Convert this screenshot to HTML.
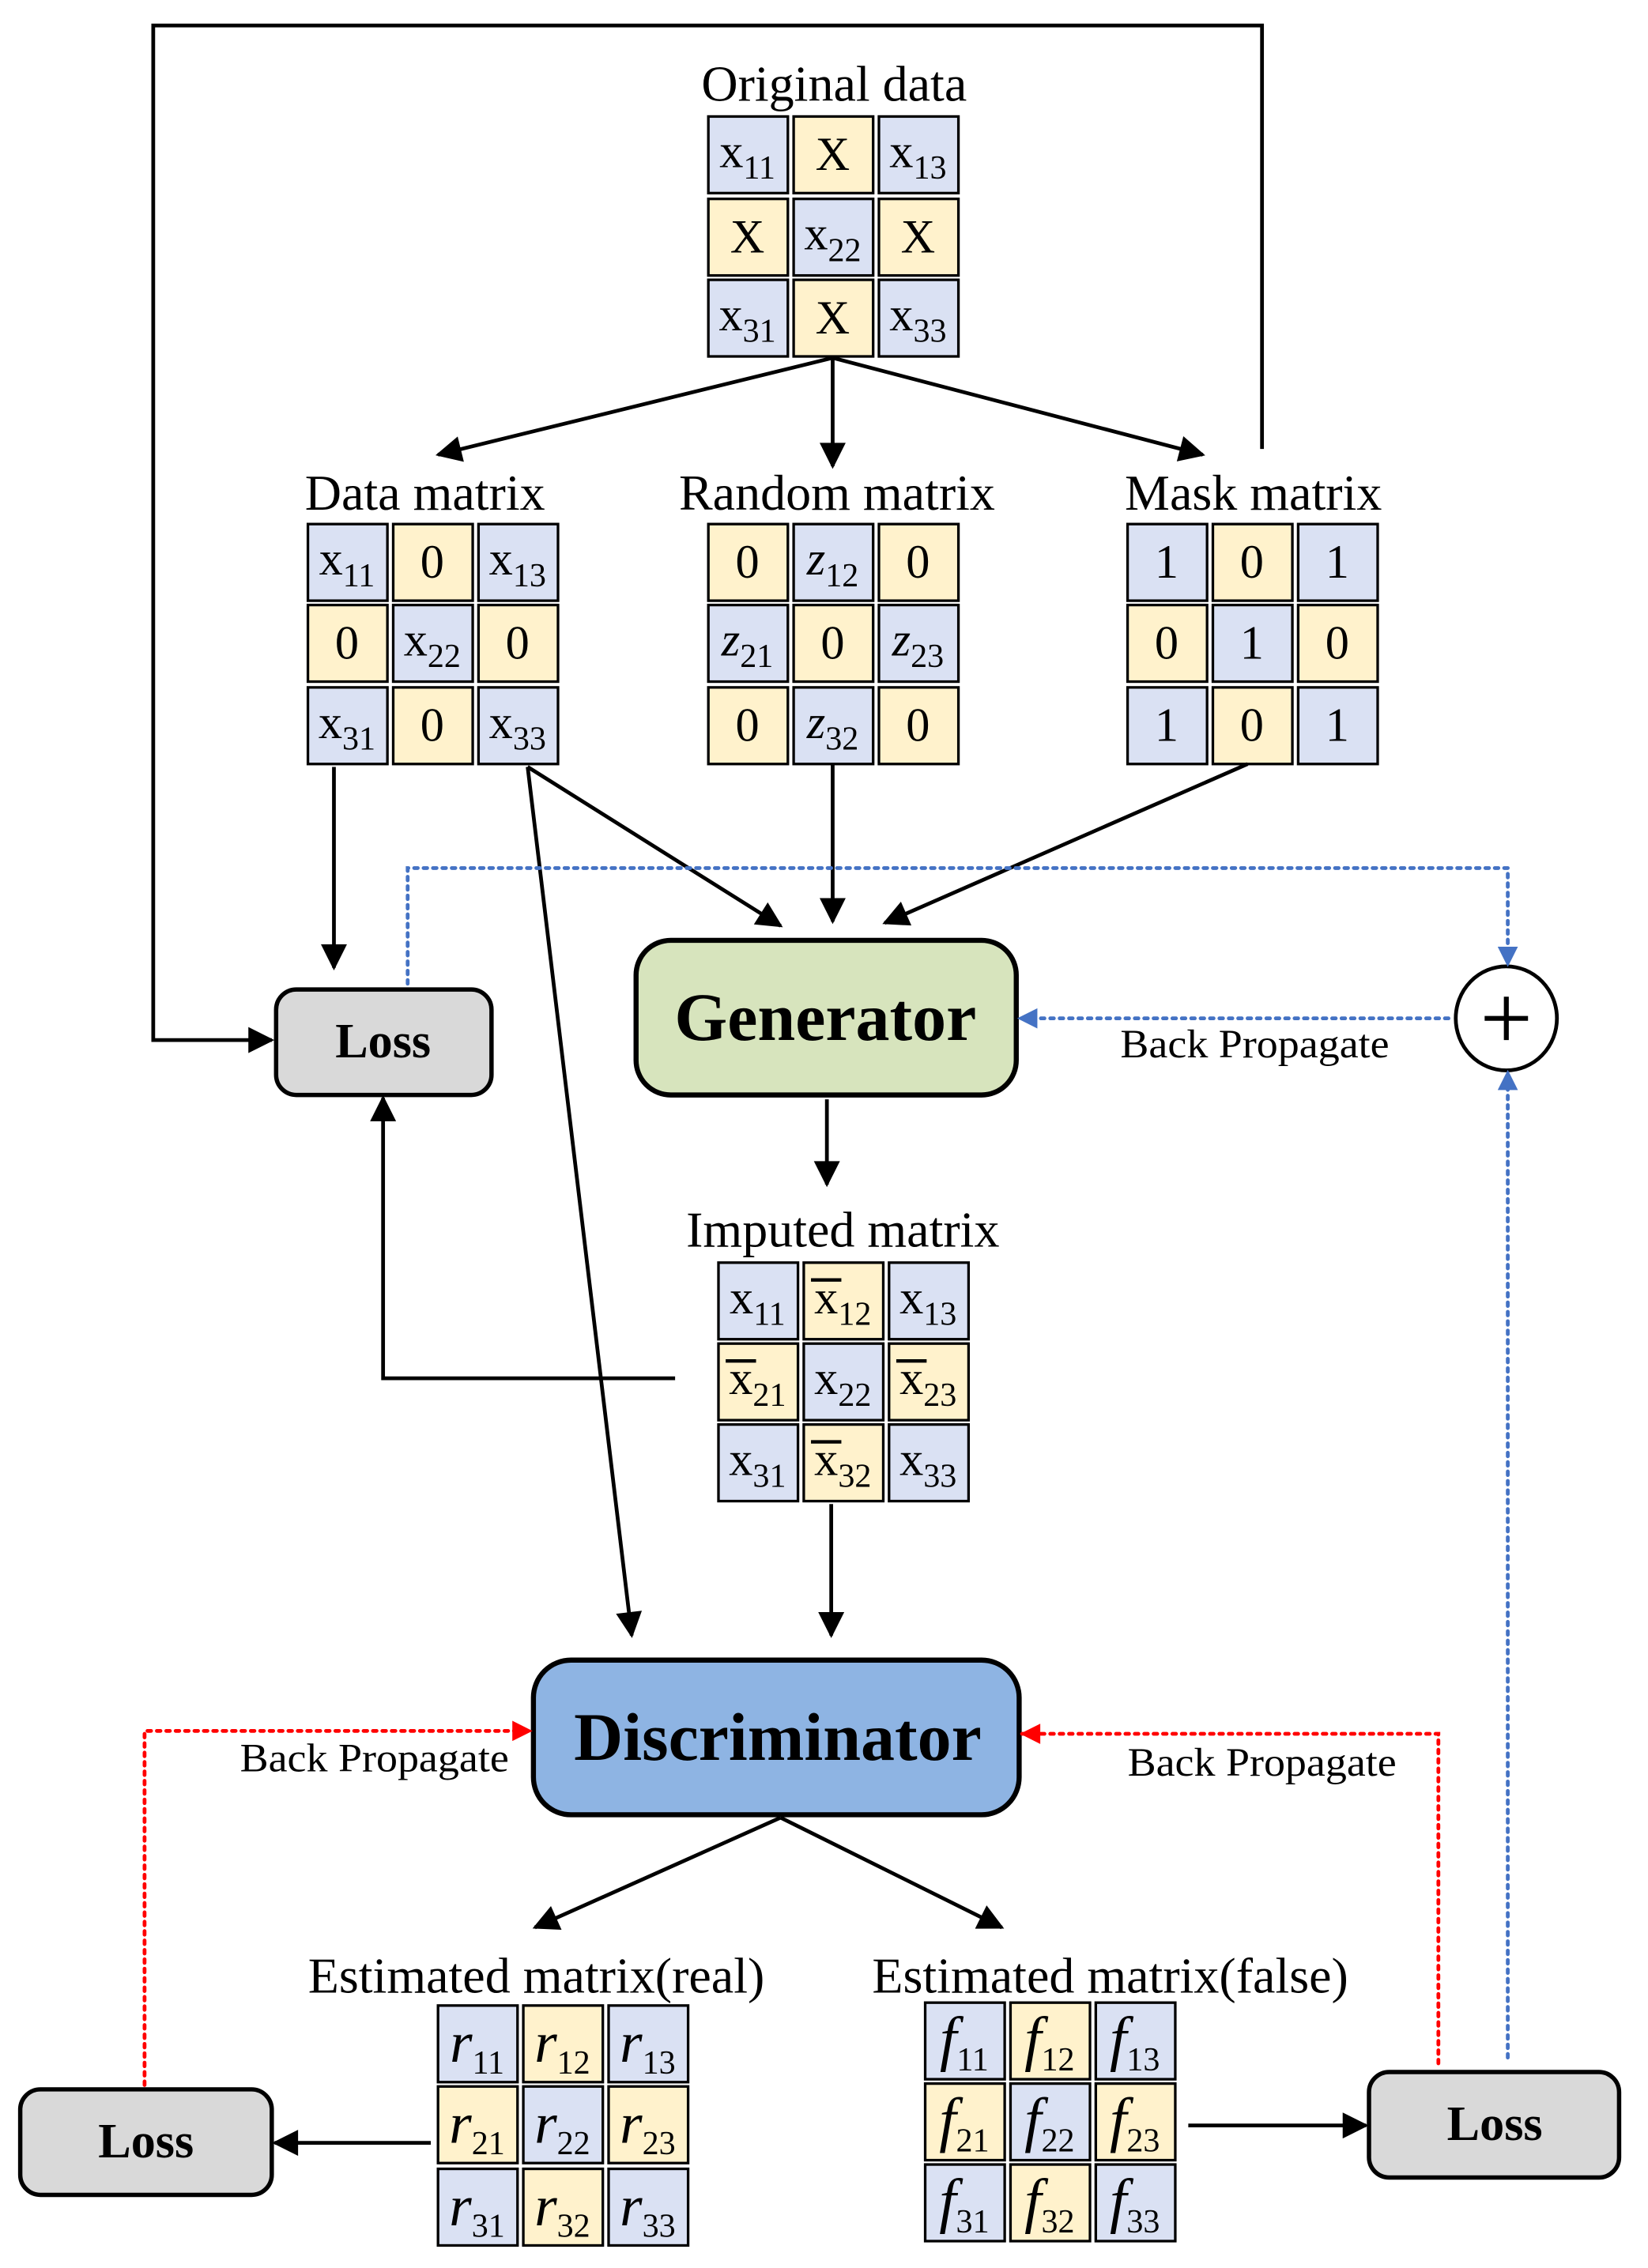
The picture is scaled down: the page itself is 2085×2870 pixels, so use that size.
<!DOCTYPE html>
<html><head><meta charset="utf-8"><style>
html,body{margin:0;padding:0;background:#fff;}
svg{display:block;}
text{font-family:"Liberation Serif",serif;fill:#000;}
.b{fill:#dae1f3;stroke:#000;stroke-width:1.8;}
.y{fill:#fff2cc;stroke:#000;stroke-width:1.8;}
.c{font-size:33px;text-anchor:middle;}
.s{font-size:23px;}
.i{font-style:italic;}
.lab{font-size:35px;text-anchor:middle;}
.ln{stroke:#000;stroke-width:2.6;fill:none;}
.bl{stroke:#4472c4;stroke-width:2.6;fill:none;stroke-dasharray:2.5 4;stroke-linecap:round;}
.rd{stroke:#ff0000;stroke-width:2.6;fill:none;stroke-dasharray:2.5 4;stroke-linecap:round;}
.bp{font-size:28px;}
</style></head><body>
<svg width="2085" height="2870" viewBox="0 0 1140 1568" xmlns="http://www.w3.org/2000/svg">
<defs>
<marker id="a" viewBox="0 0 10 10" refX="9" refY="5" markerWidth="20" markerHeight="18" orient="auto" markerUnits="userSpaceOnUse"><path d="M0,0 L10,5 L0,10 z" fill="#000"/></marker>
<marker id="ab" viewBox="0 0 10 10" refX="9" refY="5" markerWidth="20" markerHeight="14" orient="auto" markerUnits="userSpaceOnUse"><path d="M0,0 L10,5 L0,10 z" fill="#4472c4"/></marker>
<marker id="ar" viewBox="0 0 10 10" refX="9" refY="5" markerWidth="18" markerHeight="14" orient="auto" markerUnits="userSpaceOnUse"><path d="M0,0 L10,5 L0,10 z" fill="#ff0000"/></marker>
</defs>

<!-- labels -->
<text class="lab" x="577" y="69">Original data</text>
<text class="lab" x="294" y="352">Data matrix</text>
<text class="lab" x="579" y="352">Random matrix</text>
<text class="lab" x="867" y="352">Mask matrix</text>
<text class="lab" x="583" y="862">Imputed matrix</text>
<text class="lab" x="371" y="1378">Estimated matrix(real)</text>
<text class="lab" x="768" y="1378">Estimated matrix(false)</text>

<!-- Original data -->
<rect class="b" x="490" y="80" width="55" height="53"/><rect class="y" x="549" y="80" width="55" height="53"/><rect class="b" x="608" y="80" width="55" height="53"/>
<rect class="y" x="490" y="137" width="55" height="53"/><rect class="b" x="549" y="137" width="55" height="53"/><rect class="y" x="608" y="137" width="55" height="53"/>
<rect class="b" x="490" y="193" width="55" height="53"/><rect class="y" x="549" y="193" width="55" height="53"/><rect class="b" x="608" y="193" width="55" height="53"/>
<text class="c" x="517" y="115">x<tspan class="s" dy="8">11</tspan></text>
<text class="c" x="576" y="117">X</text>
<text class="c" x="635" y="115">x<tspan class="s" dy="8">13</tspan></text>
<text class="c" x="517" y="174">X</text>
<text class="c" x="576" y="172">x<tspan class="s" dy="8">22</tspan></text>
<text class="c" x="635" y="174">X</text>
<text class="c" x="517" y="228">x<tspan class="s" dy="8">31</tspan></text>
<text class="c" x="576" y="230">X</text>
<text class="c" x="635" y="228">x<tspan class="s" dy="8">33</tspan></text>

<!-- Data matrix -->
<rect class="b" x="213" y="362" width="55" height="53"/><rect class="y" x="272" y="362" width="55" height="53"/><rect class="b" x="331" y="362" width="55" height="53"/>
<rect class="y" x="213" y="418" width="55" height="53"/><rect class="b" x="272" y="418" width="55" height="53"/><rect class="y" x="331" y="418" width="55" height="53"/>
<rect class="b" x="213" y="475" width="55" height="53"/><rect class="y" x="272" y="475" width="55" height="53"/><rect class="b" x="331" y="475" width="55" height="53"/>
<text class="c" x="240" y="397">x<tspan class="s" dy="8">11</tspan></text>
<text class="c" x="299" y="399">0</text>
<text class="c" x="358" y="397">x<tspan class="s" dy="8">13</tspan></text>
<text class="c" x="240" y="455">0</text>
<text class="c" x="299" y="453">x<tspan class="s" dy="8">22</tspan></text>
<text class="c" x="358" y="455">0</text>
<text class="c" x="240" y="510">x<tspan class="s" dy="8">31</tspan></text>
<text class="c" x="299" y="512">0</text>
<text class="c" x="358" y="510">x<tspan class="s" dy="8">33</tspan></text>

<!-- Random matrix -->
<rect class="y" x="490" y="362" width="55" height="53"/><rect class="b" x="549" y="362" width="55" height="53"/><rect class="y" x="608" y="362" width="55" height="53"/>
<rect class="b" x="490" y="418" width="55" height="53"/><rect class="y" x="549" y="418" width="55" height="53"/><rect class="b" x="608" y="418" width="55" height="53"/>
<rect class="y" x="490" y="475" width="55" height="53"/><rect class="b" x="549" y="475" width="55" height="53"/><rect class="y" x="608" y="475" width="55" height="53"/>
<text class="c" x="517" y="399">0</text>
<text class="c" x="576" y="397"><tspan class="i">z</tspan><tspan class="s" dy="8">12</tspan></text>
<text class="c" x="635" y="399">0</text>
<text class="c" x="517" y="453"><tspan class="i">z</tspan><tspan class="s" dy="8">21</tspan></text>
<text class="c" x="576" y="455">0</text>
<text class="c" x="635" y="453"><tspan class="i">z</tspan><tspan class="s" dy="8">23</tspan></text>
<text class="c" x="517" y="512">0</text>
<text class="c" x="576" y="510"><tspan class="i">z</tspan><tspan class="s" dy="8">32</tspan></text>
<text class="c" x="635" y="512">0</text>

<!-- Mask matrix -->
<rect class="b" x="780" y="362" width="55" height="53"/><rect class="y" x="839" y="362" width="55" height="53"/><rect class="b" x="898" y="362" width="55" height="53"/>
<rect class="y" x="780" y="418" width="55" height="53"/><rect class="b" x="839" y="418" width="55" height="53"/><rect class="y" x="898" y="418" width="55" height="53"/>
<rect class="b" x="780" y="475" width="55" height="53"/><rect class="y" x="839" y="475" width="55" height="53"/><rect class="b" x="898" y="475" width="55" height="53"/>
<text class="c" x="807" y="399">1</text><text class="c" x="866" y="399">0</text><text class="c" x="925" y="399">1</text>
<text class="c" x="807" y="455">0</text><text class="c" x="866" y="455">1</text><text class="c" x="925" y="455">0</text>
<text class="c" x="807" y="512">1</text><text class="c" x="866" y="512">0</text><text class="c" x="925" y="512">1</text>

<!-- Imputed -->
<rect class="b" x="497" y="873" width="55" height="53"/><rect class="y" x="556" y="873" width="55" height="53"/><rect class="b" x="615" y="873" width="55" height="53"/>
<rect class="y" x="497" y="929" width="55" height="53"/><rect class="b" x="556" y="929" width="55" height="53"/><rect class="y" x="615" y="929" width="55" height="53"/>
<rect class="b" x="497" y="985" width="55" height="53"/><rect class="y" x="556" y="985" width="55" height="53"/><rect class="b" x="615" y="985" width="55" height="53"/>
<text class="c" x="524" y="908">x<tspan class="s" dy="8">11</tspan></text>
<text class="c" x="583" y="908">x<tspan class="s" dy="8">12</tspan></text>
<text class="c" x="642" y="908">x<tspan class="s" dy="8">13</tspan></text>
<text class="c" x="524" y="964">x<tspan class="s" dy="8">21</tspan></text>
<text class="c" x="583" y="964">x<tspan class="s" dy="8">22</tspan></text>
<text class="c" x="642" y="964">x<tspan class="s" dy="8">23</tspan></text>
<text class="c" x="524" y="1020">x<tspan class="s" dy="8">31</tspan></text>
<text class="c" x="583" y="1020">x<tspan class="s" dy="8">32</tspan></text>
<text class="c" x="642" y="1020">x<tspan class="s" dy="8">33</tspan></text>
<g stroke="#000" stroke-width="2.4">
<line x1="561" y1="885" x2="582" y2="885"/>
<line x1="502" y1="941" x2="523" y2="941"/>
<line x1="620" y1="941" x2="641" y2="941"/>
<line x1="561" y1="997" x2="582" y2="997"/>
</g>

<!-- Real -->
<rect class="b" x="303" y="1387" width="55" height="53"/><rect class="y" x="362" y="1387" width="55" height="53"/><rect class="b" x="421" y="1387" width="55" height="53"/>
<rect class="y" x="303" y="1443" width="55" height="53"/><rect class="b" x="362" y="1443" width="55" height="53"/><rect class="y" x="421" y="1443" width="55" height="53"/>
<rect class="b" x="303" y="1500" width="55" height="53"/><rect class="y" x="362" y="1500" width="55" height="53"/><rect class="b" x="421" y="1500" width="55" height="53"/>
<text class="c" x="330" y="1426"><tspan class="i" font-size="40">r</tspan><tspan class="s" dy="8">11</tspan></text>
<text class="c" x="389" y="1426"><tspan class="i" font-size="40">r</tspan><tspan class="s" dy="8">12</tspan></text>
<text class="c" x="448" y="1426"><tspan class="i" font-size="40">r</tspan><tspan class="s" dy="8">13</tspan></text>
<text class="c" x="330" y="1482"><tspan class="i" font-size="40">r</tspan><tspan class="s" dy="8">21</tspan></text>
<text class="c" x="389" y="1482"><tspan class="i" font-size="40">r</tspan><tspan class="s" dy="8">22</tspan></text>
<text class="c" x="448" y="1482"><tspan class="i" font-size="40">r</tspan><tspan class="s" dy="8">23</tspan></text>
<text class="c" x="330" y="1539"><tspan class="i" font-size="40">r</tspan><tspan class="s" dy="8">31</tspan></text>
<text class="c" x="389" y="1539"><tspan class="i" font-size="40">r</tspan><tspan class="s" dy="8">32</tspan></text>
<text class="c" x="448" y="1539"><tspan class="i" font-size="40">r</tspan><tspan class="s" dy="8">33</tspan></text>

<!-- False -->
<rect class="b" x="640" y="1385" width="55" height="53"/><rect class="y" x="699" y="1385" width="55" height="53"/><rect class="b" x="758" y="1385" width="55" height="53"/>
<rect class="y" x="640" y="1441" width="55" height="53"/><rect class="b" x="699" y="1441" width="55" height="53"/><rect class="y" x="758" y="1441" width="55" height="53"/>
<rect class="b" x="640" y="1497" width="55" height="53"/><rect class="y" x="699" y="1497" width="55" height="53"/><rect class="b" x="758" y="1497" width="55" height="53"/>
<text class="c" x="667" y="1424"><tspan class="i" font-size="42">f</tspan><tspan class="s" dy="8">11</tspan></text>
<text class="c" x="726" y="1424"><tspan class="i" font-size="42">f</tspan><tspan class="s" dy="8">12</tspan></text>
<text class="c" x="785" y="1424"><tspan class="i" font-size="42">f</tspan><tspan class="s" dy="8">13</tspan></text>
<text class="c" x="667" y="1480"><tspan class="i" font-size="42">f</tspan><tspan class="s" dy="8">21</tspan></text>
<text class="c" x="726" y="1480"><tspan class="i" font-size="42">f</tspan><tspan class="s" dy="8">22</tspan></text>
<text class="c" x="785" y="1480"><tspan class="i" font-size="42">f</tspan><tspan class="s" dy="8">23</tspan></text>
<text class="c" x="667" y="1536"><tspan class="i" font-size="42">f</tspan><tspan class="s" dy="8">31</tspan></text>
<text class="c" x="726" y="1536"><tspan class="i" font-size="42">f</tspan><tspan class="s" dy="8">32</tspan></text>
<text class="c" x="785" y="1536"><tspan class="i" font-size="42">f</tspan><tspan class="s" dy="8">33</tspan></text>

<!-- Boxes -->
<rect x="191" y="684" width="149" height="73" rx="14" fill="#d9d9d9" stroke="#000" stroke-width="3"/>
<text x="265" y="731" font-size="34" font-weight="bold" text-anchor="middle">Loss</text>
<rect x="440" y="650" width="263" height="107" rx="24" fill="#d7e4bd" stroke="#000" stroke-width="3.5"/>
<text x="571" y="719" font-size="47" font-weight="bold" text-anchor="middle">Generator</text>
<rect x="369" y="1148" width="336" height="107" rx="26" fill="#8eb4e3" stroke="#000" stroke-width="3.5"/>
<text x="538" y="1217" font-size="47" font-weight="bold" text-anchor="middle">Discriminator</text>
<rect x="14" y="1445" width="174" height="73" rx="14" fill="#d9d9d9" stroke="#000" stroke-width="3"/>
<text x="101" y="1492" font-size="34" font-weight="bold" text-anchor="middle">Loss</text>
<rect x="947" y="1433" width="173" height="73" rx="14" fill="#d9d9d9" stroke="#000" stroke-width="3"/>
<text x="1034" y="1480" font-size="34" font-weight="bold" text-anchor="middle">Loss</text>
<ellipse cx="1042" cy="704" rx="35" ry="36" fill="#fff" stroke="#000" stroke-width="2.6"/>
<line x1="1042" y1="689" x2="1042" y2="719" stroke="#000" stroke-width="3.4"/>
<line x1="1027" y1="704" x2="1057" y2="704" stroke="#000" stroke-width="3.4"/>

<!-- Black connectors -->
<polyline class="ln" points="873,310 873,17 106,17 106,719 188,719" marker-end="url(#a)"/>
<line class="ln" x1="576" y1="247" x2="303" y2="314" marker-end="url(#a)"/>
<line class="ln" x1="576" y1="247" x2="576" y2="322" marker-end="url(#a)"/>
<line class="ln" x1="576" y1="247" x2="832" y2="314" marker-end="url(#a)"/>
<line class="ln" x1="231" y1="530" x2="231" y2="669" marker-end="url(#a)"/>
<line class="ln" x1="365" y1="530" x2="540" y2="640" marker-end="url(#a)"/>
<line class="ln" x1="365" y1="530" x2="437" y2="1131" marker-end="url(#a)"/>
<line class="ln" x1="576" y1="528" x2="576" y2="637" marker-end="url(#a)"/>
<line class="ln" x1="863" y1="528" x2="612" y2="638" marker-end="url(#a)"/>
<line class="ln" x1="572" y1="760" x2="572" y2="819" marker-end="url(#a)"/>
<polyline class="ln" points="467,953 265,953 265,759" marker-end="url(#a)"/>
<line class="ln" x1="575" y1="1040" x2="575" y2="1131" marker-end="url(#a)"/>
<line class="ln" x1="540" y1="1257" x2="370" y2="1333" marker-end="url(#a)"/>
<line class="ln" x1="540" y1="1257" x2="693" y2="1333" marker-end="url(#a)"/>
<line class="ln" x1="298" y1="1482" x2="190" y2="1482" marker-end="url(#a)"/>
<line class="ln" x1="822" y1="1470" x2="945" y2="1470" marker-end="url(#a)"/>

<!-- Blue dashed -->
<polyline class="bl" points="282,680 282,600 1043,600 1043,667" marker-end="url(#ab)"/>
<line class="bl" x1="1002" y1="704" x2="705" y2="704" marker-end="url(#ab)"/>
<line class="bl" x1="1043" y1="1423" x2="1043" y2="741" marker-end="url(#ab)"/>
<text class="bp" x="775" y="731" textLength="186" lengthAdjust="spacingAndGlyphs">Back Propagate</text>

<!-- Red dashed -->
<polyline class="rd" points="100,1442 100,1197 367,1197" marker-end="url(#ar)"/>
<polyline class="rd" points="995,1427 995,1199 707,1199" marker-end="url(#ar)"/>
<text class="bp" x="166" y="1225" textLength="186" lengthAdjust="spacingAndGlyphs">Back Propagate</text>
<text class="bp" x="780" y="1228" textLength="186" lengthAdjust="spacingAndGlyphs">Back Propagate</text>
</svg>
</body></html>
